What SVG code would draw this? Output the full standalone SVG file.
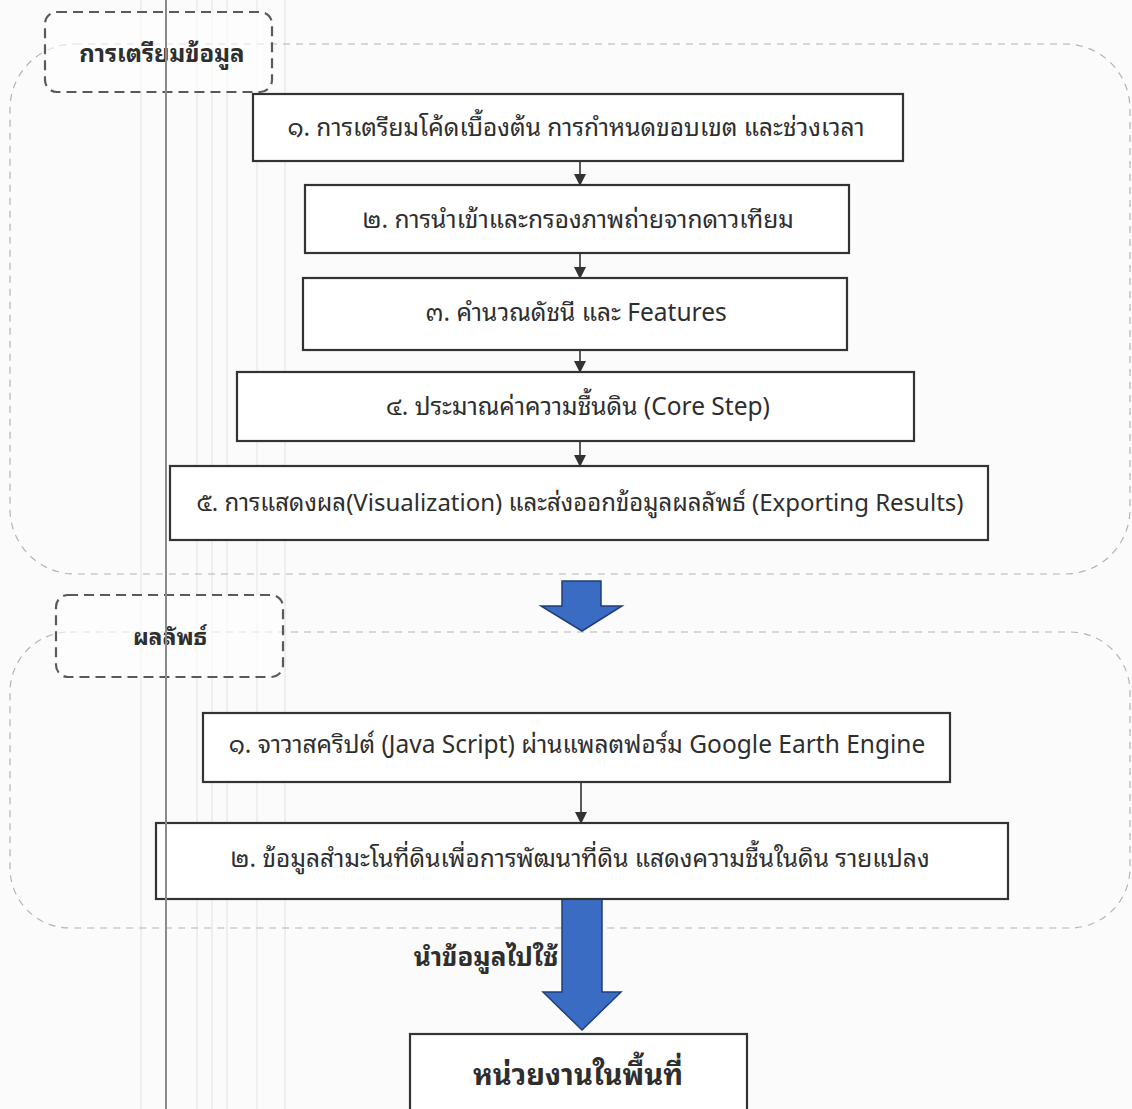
<svg xmlns="http://www.w3.org/2000/svg" width="1132" height="1109" viewBox="0 0 1132 1109">
<style>
.bg{fill:#fbfbfb}
.region{fill:none;stroke:#b4b4b4;stroke-width:1.2;stroke-dasharray:7 6}
.label{fill:#ffffff;fill-opacity:0.6;stroke:#5a5a5a;stroke-width:2.2;stroke-dasharray:10 6}
.box{fill:#ffffff;stroke:#333333;stroke-width:2.2}
.t{font-family:"Noto Sans Thai Looped","Noto Sans Thai","Leelawadee UI","Noto Sans",sans-serif;font-size:24.5px;fill:#2e2e2e;text-anchor:middle}
.tb{font-family:"Noto Sans Thai Looped","Noto Sans Thai","Leelawadee UI","Noto Sans",sans-serif;font-weight:bold;fill:#2e2e2e;text-anchor:middle}
.conn{stroke:#333333;stroke-width:1.6;fill:none}
.big{fill:#3a6cc4;stroke:#1f3f7a;stroke-width:1.5}
.scan{stroke:#e2e2e2;stroke-width:1}
</style>
<defs>
<marker id="ah" markerWidth="12" markerHeight="12" refX="11" refY="6" orient="auto" markerUnits="userSpaceOnUse">
<path d="M0,0 L12,6 L0,12 Z" fill="#333333"/>
</marker>
</defs>
<rect class="bg" x="0" y="0" width="1132" height="1109"/>
<g id="scan-lines">
<line class="scan" x1="141" y1="0" x2="141" y2="1109"/>
<line class="scan" x1="197" y1="0" x2="197" y2="1109"/>
<line class="scan" x1="212" y1="0" x2="212" y2="1109"/>
<line class="scan" x1="227" y1="0" x2="227" y2="1109"/>
<line class="scan" x1="257" y1="0" x2="257" y2="1109"/>
<line class="scan" x1="285" y1="0" x2="285" y2="1109"/>
</g>
<g id="regions">
<rect id="region-prep" class="region" x="10" y="44" width="1120" height="530" rx="65" ry="65"/>
<rect id="region-result" class="region" x="10" y="632" width="1120" height="296" rx="60" ry="60"/>
</g>
<g id="label-prep">
<rect class="label" x="45" y="12" width="227" height="80" rx="12" ry="12"/>
<text class="tb" x="162" y="62" font-size="24">การเตรียมข้อมูล</text>
</g>
<g id="label-result">
<rect class="label" x="56" y="595" width="227" height="82" rx="12" ry="12"/>
<text class="tb" x="170" y="645" font-size="23">ผลลัพธ์</text>
</g>
<g id="connectors">
<line class="conn" x1="580" y1="161" x2="580" y2="185" marker-end="url(#ah)"/>
<line class="conn" x1="580" y1="253" x2="580" y2="278" marker-end="url(#ah)"/>
<line class="conn" x1="580" y1="350" x2="580" y2="372" marker-end="url(#ah)"/>
<line class="conn" x1="580" y1="441" x2="580" y2="466" marker-end="url(#ah)"/>
<line class="conn" x1="581" y1="782" x2="581" y2="823" marker-end="url(#ah)"/>
<path id="bigarrow-1" class="big" d="M562,581 L601,581 L601,606 L622,606 L582,631 L541,606 L562,606 Z"/>
<path id="bigarrow-2" class="big" d="M562,898 L602,898 L602,992 L621,992 L582,1030 L543,992 L562,992 Z"/>
</g>
<g id="step-1">
<rect class="box" x="253" y="94" width="650" height="67"/>
<text class="t" x="576" y="136">๑. การเตรียมโค้ดเบื้องต้น การกำหนดขอบเขต และช่วงเวลา</text>
</g>
<g id="step-2">
<rect class="box" x="305" y="185" width="544" height="68"/>
<text class="t" x="578" y="228">๒. การนำเข้าและกรองภาพถ่ายจากดาวเทียม</text>
</g>
<g id="step-3">
<rect class="box" x="303" y="278" width="544" height="72"/>
<text class="t" x="576" y="321">๓. คำนวณดัชนี และ Features</text>
</g>
<g id="step-4">
<rect class="box" x="237" y="372" width="677" height="69"/>
<text class="t" x="578" y="415">๔. ประมาณค่าความชื้นดิน (Core Step)</text>
</g>
<g id="step-5">
<rect class="box" x="170" y="466" width="818" height="74"/>
<text class="t" x="580" y="511" style="font-size:24px">๕. การแสดงผล(Visualization) และส่งออกข้อมูลผลลัพธ์ (Exporting Results)</text>
</g>
<g id="result-1">
<rect class="box" x="203" y="713" width="747" height="69"/>
<text class="t" x="577" y="753">๑. จาวาสคริปต์ (Java Script) ผ่านแพลตฟอร์ม Google Earth Engine</text>
</g>
<g id="result-2">
<rect class="box" x="156" y="823" width="852" height="76"/>
<text class="t" x="580" y="867">๒. ข้อมูลสำมะโนที่ดินเพื่อการพัฒนาที่ดิน แสดงความชื้นในดิน รายแปลง</text>
</g>
<g id="use-label">
<text class="tb" x="486" y="966" font-size="26">นำข้อมูลไปใช้</text>
</g>
<g id="agency">
<rect class="box" x="410" y="1034" width="337" height="90"/>
<text class="tb" x="578" y="1085" font-size="29">หน่วยงานในพื้นที่</text>
</g>
<g id="scan-dark">
<line x1="166" y1="0" x2="166" y2="1109" stroke="#8a8a8a" stroke-width="2"/>
</g>
</svg>
